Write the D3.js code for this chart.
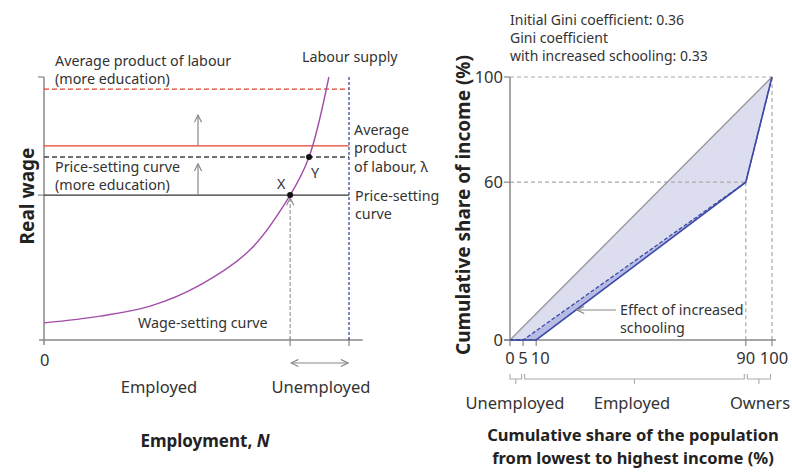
<!DOCTYPE html>
<meta charset="utf-8" />
<style>
  body { margin: 0; background: #fff; }
  svg { display: block; font-family: "Noto Sans", sans-serif; }
  .lbl { font-size: 14.3px; fill: #333; }
  .gini { font-size: 14px; fill: #333; }
  .ttl { font-size: 17px; font-weight: bold; fill: #222; }
  .ttl2 { font-size: 16.5px; font-weight: bold; fill: #222; }
  .ylab { font-size: 19px; font-weight: bold; fill: #222; }
  .tick { font-size: 16.5px; fill: #333; }
</style>
<script src="https://d3js.org/d3.v7.min.js"></script>
<svg id="chart" width="792" height="473"></svg>
<script>
  // Left panel: labour market (employment 0-100 = labour supply, wage 0-100 = top of axis)
  const wageSetting = [[0, 6.5], [18.4, 9.1], [34.8, 12.9], [51.1, 20.9], [67.5, 34.2], [80.7, 55.1], [86.9, 69.6], [93.4, 100]];
  const priceSetting = 55.1;
  const priceSettingEdu = 69.6;
  const apl = 73.8;
  const aplEdu = 95.4;
  const pointX = [80.7, 55.1];
  const pointY = [86.9, 69.6];
  const labourSupply = 100;

  // Right panel: Lorenz curves
  const equality = [[0, 0], [100, 100]];
  const lorenzInitial = [[0, 0], [10, 0], [90, 60], [100, 100]];
  const lorenzSchooling = [[0, 0], [5, 0], [90, 60], [100, 100]];
  const xTicksR = [0, 5, 10, 90, 100];
  const yTicksR = [0, 60, 100];
  const groups = [["Unemployed", 0, 5], ["Employed", 5, 90], ["Owners", 90, 100]];

  const red = "#e8412f", blue = "#3d4aa6", purple = "#a24ca8", grey = "#888";
  const svg = d3.select("#chart");

  const defs = svg.append("defs");
  defs.append("marker").attr("id", "arr").attr("viewBox", "0 0 10 10")
    .attr("refX", 9).attr("refY", 5).attr("markerWidth", 9).attr("markerHeight", 9)
    .attr("orient", "auto-start-reverse").attr("markerUnits", "userSpaceOnUse")
    .append("path").attr("d", "M1,1 L9,5 L1,9").attr("fill", "none")
    .attr("stroke", grey).attr("stroke-width", 1.3);

  const txt = (g, x, y, s, cls, color, anchor) => g.append("text").attr("x", x).attr("y", y)
    .attr("class", cls).attr("fill", color).attr("text-anchor", anchor || "start").text(s);

  // ---------- left ----------
  const xL = d3.scaleLinear().domain([0, 100]).range([44, 349]);
  const yL = d3.scaleLinear().domain([0, 100]).range([340, 77]);
  const gL = svg.append("g");

  // axes
  gL.append("line").attr("x1", xL(0)).attr("x2", xL(0)).attr("y1", yL(100)).attr("y2", yL(0) + 5)
    .attr("stroke", grey).attr("stroke-width", 1.5);
  gL.append("line").attr("x1", xL(0) - 5).attr("x2", xL(104.5)).attr("y1", yL(0)).attr("y2", yL(0))
    .attr("stroke", grey).attr("stroke-width", 1.5);
  [100, priceSetting].forEach(v => gL.append("line").attr("x1", xL(0) - 6).attr("x2", xL(0))
    .attr("y1", yL(v)).attr("y2", yL(v)).attr("stroke", grey).attr("stroke-width", 1.2));
  [pointX[0], labourSupply].forEach(v => gL.append("line").attr("x1", xL(v)).attr("x2", xL(v))
    .attr("y1", yL(0) - 2).attr("y2", yL(0) + 6).attr("stroke", grey).attr("stroke-width", 1.2));

  // horizontal lines
  const hline = (v, color, dash) => gL.append("line").attr("x1", xL(0)).attr("x2", xL(labourSupply))
    .attr("y1", yL(v)).attr("y2", yL(v)).attr("stroke", color).attr("stroke-width", 1.4)
    .attr("stroke-dasharray", dash);
  hline(aplEdu, red, "5,3");
  hline(apl, red, null);
  hline(priceSettingEdu, "#444", "5,3");
  hline(priceSetting, "#333", null);

  // labour supply
  gL.append("line").attr("x1", xL(labourSupply)).attr("x2", xL(labourSupply))
    .attr("y1", yL(100)).attr("y2", yL(0)).attr("stroke", blue).attr("stroke-width", 1.3)
    .attr("stroke-dasharray", "3,2");

  // dashed drop from X
  gL.append("line").attr("x1", xL(pointX[0])).attr("x2", xL(pointX[0]))
    .attr("y1", yL(0)).attr("y2", yL(pointX[1]) + 3).attr("stroke", "#999").attr("stroke-width", 1.2)
    .attr("stroke-dasharray", "4,2").attr("marker-end", "url(#arr)");

  // shift arrows
  [[apl, 85.5], [priceSetting, 67]].forEach(([a, b]) => gL.append("line")
    .attr("x1", xL(50.5)).attr("x2", xL(50.5)).attr("y1", yL(a)).attr("y2", yL(b))
    .attr("stroke", grey).attr("stroke-width", 1.2).attr("marker-end", "url(#arr)"));

  // unemployed arrow
  gL.append("line").attr("x1", xL(pointX[0]) + 1).attr("x2", xL(labourSupply) - 1)
    .attr("y1", 363).attr("y2", 363).attr("stroke", grey).attr("stroke-width", 1.2)
    .attr("marker-start", "url(#arr)").attr("marker-end", "url(#arr)");

  // wage-setting curve
  gL.append("path").datum(wageSetting)
    .attr("d", d3.line().x(d => xL(d[0])).y(d => yL(d[1])).curve(d3.curveCatmullRom))
    .attr("fill", "none").attr("stroke", purple).attr("stroke-width", 1.4);

  [pointX, pointY].forEach(p => gL.append("circle").attr("cx", xL(p[0])).attr("cy", yL(p[1]))
    .attr("r", 3).attr("fill", "#111"));

  txt(gL, 55, 66, "Average product of labour", "lbl", red);
  txt(gL, 55, 84, "(more education)", "lbl", red);
  txt(gL, 302, 62, "Labour supply", "lbl", blue);
  txt(gL, 354, 135, "Average", "lbl", red);
  txt(gL, 354, 153, "product", "lbl", red);
  txt(gL, 354, 172, "of labour, λ", "lbl", red);
  txt(gL, 355, 201, "Price-setting", "lbl", "#333");
  txt(gL, 355, 219, "curve", "lbl", "#333");
  txt(gL, 55, 172, "Price-setting curve", "lbl", "#333");
  txt(gL, 55, 190, "(more education)", "lbl", "#333");
  txt(gL, 277, 189, "X", "lbl", "#333");
  txt(gL, 311, 178, "Y", "lbl", "#333");
  txt(gL, 138, 328, "Wage-setting curve", "lbl", purple);
  txt(gL, 40, 366, "0", "tick", "#333");
  txt(gL, 159, 393, "Employed", "tick", "#333", "middle");
  txt(gL, 321, 393, "Unemployed", "tick", "#333", "middle");
  const t1 = txt(gL, 205, 447, "Employment, ", "ttl", "#222", "middle");
  t1.append("tspan").attr("font-style", "italic").text("N");
  gL.append("text").attr("class", "ylab").attr("text-anchor", "middle")
    .attr("transform", "translate(34,196) rotate(-90)").text("Real wage");

  // ---------- right ----------
  const xR = d3.scaleLinear().domain([0, 100]).range([510, 772]);
  const yR = d3.scaleLinear().domain([0, 100]).range([340, 77]);
  const gR = svg.append("g");
  const lineR = d3.line().x(d => xR(d[0])).y(d => yR(d[1]));

  // fills
  gR.append("path").datum(equality.concat(lorenzSchooling.slice().reverse()))
    .attr("d", lineR).attr("fill", "#dcdeef");
  gR.append("path").datum(lorenzSchooling.concat(lorenzInitial.slice().reverse()))
    .attr("d", lineR).attr("fill", "#b7bce6");

  // grid
  const dash = (x1, y1, x2, y2) => gR.append("line").attr("x1", xR(x1)).attr("y1", yR(y1))
    .attr("x2", xR(x2)).attr("y2", yR(y2)).attr("stroke", "#aaa").attr("stroke-width", 1.2)
    .attr("stroke-dasharray", "4,3");
  dash(0, 100, 100, 100);
  dash(0, 60, 90, 60);
  dash(90, 60, 90, 0);
  dash(100, 100, 100, 0);

  // axes
  gR.append("line").attr("x1", xR(0)).attr("x2", xR(0)).attr("y1", yR(100)).attr("y2", yR(0))
    .attr("stroke", grey).attr("stroke-width", 1.5);
  gR.append("line").attr("x1", xR(0) - 6).attr("x2", xR(101.5)).attr("y1", yR(0)).attr("y2", yR(0))
    .attr("stroke", grey).attr("stroke-width", 1.5);
  gR.selectAll(".yt").data(yTicksR).enter().append("line")
    .attr("x1", xR(0) - 6).attr("x2", xR(0)).attr("y1", d => yR(d)).attr("y2", d => yR(d))
    .attr("stroke", grey).attr("stroke-width", 1.2);
  gR.selectAll(".ytl").data(yTicksR).enter().append("text").attr("class", "tick")
    .attr("x", xR(0) - 7).attr("y", d => yR(d) + 6).attr("text-anchor", "end").text(d => d);
  gR.selectAll(".xt").data(xTicksR).enter().append("line")
    .attr("x1", d => xR(d)).attr("x2", d => xR(d)).attr("y1", yR(0)).attr("y2", yR(0) + 6)
    .attr("stroke", grey).attr("stroke-width", 1.2);
  const xOff = { 0: 0, 5: 0, 10: 4, 90: 0, 100: 2 };
  gR.selectAll(".xtl").data(xTicksR).enter().append("text").attr("class", "tick")
    .attr("x", d => xR(d) + xOff[d]).attr("y", 364).attr("text-anchor", "middle").text(d => d);

  // lines
  gR.append("path").datum(equality).attr("d", lineR).attr("fill", "none")
    .attr("stroke", "#999").attr("stroke-width", 1.4);
  gR.append("path").datum(lorenzSchooling).attr("d", lineR).attr("fill", "none")
    .attr("stroke", blue).attr("stroke-width", 1.3).attr("stroke-dasharray", "4,2");
  gR.append("path").datum(lorenzInitial).attr("d", lineR).attr("fill", "none")
    .attr("stroke", blue).attr("stroke-width", 1.6);

  // brackets
  groups.forEach(([name, a, b]) => {
    const x1 = xR(a) + (a > 0 ? 1.5 : 0), x2 = xR(b) - 1.5;
    gR.append("path").attr("d", `M${x1},374 V379 H${x2} V374 M${(x1 + x2) / 2},379 V384`)
      .attr("fill", "none").attr("stroke", "#aaa").attr("stroke-width", 1.1);
  });
  txt(gR, 515, 409, "Unemployed", "tick", "#333", "middle");
  txt(gR, 632, 409, "Employed", "tick", "#333", "middle");
  txt(gR, 760, 409, "Owners", "tick", "#333", "middle");

  // annotation
  gR.append("line").attr("x1", 616).attr("x2", 577).attr("y1", 310).attr("y2", 310)
    .attr("stroke", grey).attr("stroke-width", 1.2).attr("marker-end", "url(#arr)");
  txt(gR, 620, 315, "Effect of increased", "lbl", "#333");
  txt(gR, 620, 333, "schooling", "lbl", "#333");

  txt(gR, 510, 25, "Initial Gini coefficient: 0.36", "gini", "#333");
  txt(gR, 510, 43, "Gini coefficient", "gini", "#333");
  txt(gR, 510, 61, "with increased schooling: 0.33", "gini", "#333");

  txt(gR, 633, 441, "Cumulative share of the population", "ttl2", "#222", "middle");
  txt(gR, 633, 464, "from lowest to highest income (%)", "ttl2", "#222", "middle");
  gR.append("text").attr("class", "ylab").attr("text-anchor", "middle")
    .attr("transform", "translate(470,205) rotate(-90)").text("Cumulative share of income (%)");
</script>
